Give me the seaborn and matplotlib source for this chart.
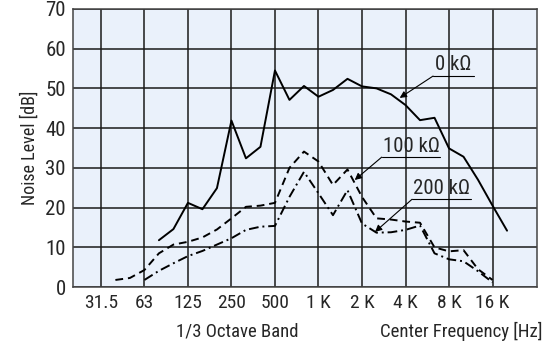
import numpy as np
import pandas as pd
import matplotlib
matplotlib.use("Agg")
import matplotlib.pyplot as plt
import seaborn as sns

# 1/3 octave bands, 31.5 Hz .. 20 kHz
bands = ["31.5", "40", "50", "63", "80", "100", "125", "160", "200", "250",
         "315", "400", "500", "630", "800", "1K", "1.25K", "1.6K", "2K", "2.5K",
         "3.15K", "4K", "5K", "6.3K", "8K", "10K", "12.5K", "16K", "20K"]

# levels in dB, None where the curve is not drawn
level_0k = [None, None, None, None, 11.8, 14.6, 21.2, 19.6, 24.9, 41.9,
            32.4, 35.3, 54.5, 47.1, 50.6, 47.9, 49.6, 52.4, 50.5, 50.0,
            48.5, 45.8, 42.0, 42.6, 34.9, 32.8, 27.0, 20.5, 14.2]
level_100k = [None, 1.8, 2.3, 4.3, 8.5, 10.7, 11.4, 12.5, 14.5, 17.3,
              20.2, 20.5, 21.2, 30.0, 34.1, 31.6, 25.7, 29.6, 22.7, 17.3,
              17.0, 16.5, 16.2, 10.0, 9.0, 9.3, 4.5, 1.8, None]
level_200k = [None, None, None, 1.8, 4.1, 6.0, 7.8, 9.1, 10.7, 12.3,
              14.4, 15.2, 15.4, 22.7, 29.0, 23.6, 18.1, 24.4, 16.0, 13.7,
              13.8, 14.4, 15.5, 8.5, 7.0, 6.5, 4.0, 1.2, None]

tick_bands = ["31.5", "63", "125", "250", "500", "1K", "2K", "4K", "8K", "16K"]
tick_labels = ["31.5", "63", "125", "250", "500", "1 K", "2 K", "4 K", "8 K", "16 K"]

rows = []
for name, vals in [("0 kΩ", level_0k), ("100 kΩ", level_100k), ("200 kΩ", level_200k)]:
    for i, v in enumerate(vals):
        if v is not None:
            rows.append({"band": i, "level": v, "series": name})
df = pd.DataFrame(rows)

sns.set_style("white")
plt.rcParams["font.family"] = ["Roboto Condensed", "Liberation Sans Narrow", "Roboto", "DejaVu Sans"]

fig = plt.figure(figsize=(5.44, 3.41), dpi=100)
ax = fig.add_axes([0.134, 0.158, 0.853, 0.816])
ax.set_facecolor("#eaf1fb")

sns.lineplot(data=df, x="band", y="level", style="series", color="black",
             dashes={"0 kΩ": "", "100 kΩ": (4, 2.5), "200 kΩ": (5, 2, 1, 2)},
             linewidth=1.4, legend=False, ax=ax)

ax.set_xlim(-1.93, 30.06)
ax.set_ylim(0, 70)
ax.set_xticks([bands.index(b) for b in tick_bands])
ax.set_xticklabels(tick_labels)
ax.set_yticks(range(0, 71, 10))
ax.tick_params(length=0, pad=5)
ax.tick_params(axis="y", labelsize=15)
ax.tick_params(axis="x", labelsize=14)
ax.grid(True, color="#1a1a1a", linewidth=1.1)
ax.set_axisbelow(True)
for s in ax.spines.values():
    s.set_color("#444444")
    s.set_linewidth(1.1)

ax.set_xlabel("")
ax.set_ylabel("Noise Level [dB]", fontsize=13, labelpad=5)

# labels with underline and arrow
notes = [("0 kΩ", 22.9, 25.7, 53.1, 20.6, 47.6),
         ("100 kΩ", 19.36, 23.4, 32.7, 17.5, 26.95),
         ("200 kΩ", 21.45, 25.5, 22.1, 18.9, 13.9)]
for txt, x0, x1, y, tx, ty in notes:
    ax.text((x0 + x1) / 2, y + 0.4, txt, ha="center", va="bottom", fontsize=15)
    ax.plot([x0, x1], [y, y], color="black", linewidth=0.8)
    ax.annotate("", xy=(tx, ty), xytext=(x0, y),
                arrowprops=dict(arrowstyle="-|>", color="black", lw=0.8,
                                mutation_scale=10, shrinkA=0, shrinkB=0))

fig.text(237 / 544, 1 - 331 / 341, "1/3 Octave Band", ha="center", va="center", fontsize=13.5)
fig.text(543 / 544, 1 - 331 / 341, "Center Frequency [Hz]", ha="right", va="center", fontsize=13.5)

fig.savefig("out.png", dpi=100)
